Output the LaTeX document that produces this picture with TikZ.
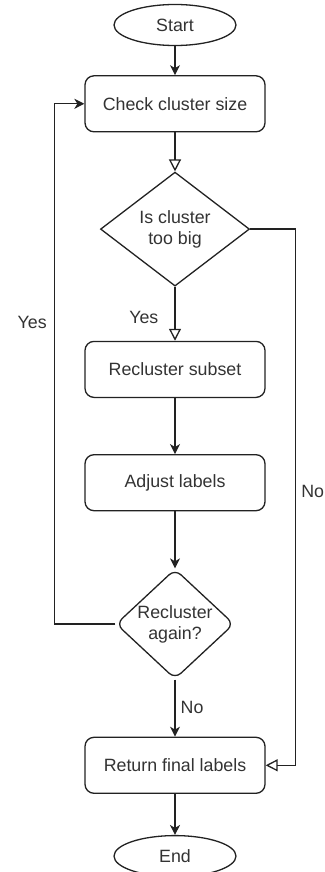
\documentclass[tikz,border=0pt]{standalone}
\usepackage{fontspec}
\setmainfont{Liberation Sans}
\usepackage{xcolor}
\usetikzlibrary{arrows.meta,positioning,shapes.geometric}

\definecolor{ink}{HTML}{222222}
\definecolor{txt}{HTML}{333333}

\begin{document}
\begin{tikzpicture}[x=1pt, y=1pt, font=\fontsize{17.8}{21}\selectfont,
    line width=1.3pt, draw=ink, text=txt,
    >={Stealth[length=10pt, width=10pt, inset=3pt]},
    open/.style={-{Triangle[open, length=12pt, width=12pt]}},
    term/.style={draw=ink, ellipse, fill=white, inner sep=0pt, minimum width=122pt, minimum height=41pt},
    proc/.style={draw=ink, rounded corners=9pt, fill=white, align=center, minimum width=180pt, minimum height=56pt},
    dec/.style={draw=ink, diamond, fill=white, align=center, inner sep=-3pt},
    lbl/.style={text=txt, inner sep=2pt}]

  \useasboundingbox (0,0) rectangle (324,-872);

  % --- Main column ---
  \node[term] (start) at (175,-25) {Start};
  \node[proc, below=29pt of start] (check) {Check cluster size};
  \node[dec, aspect=1.3, minimum width=149pt, minimum height=114pt, below=39pt of check] (big) {Is cluster\\too big};
  \node[proc, below=54pt of big] (sub) {Recluster subset};
  \node[proc, below=56pt of sub] (adj) {Adjust labels};
  \node[dec, rounded corners=8pt, aspect=1.08, minimum width=118pt, minimum height=110pt, below=57pt of adj] (again) {Recluster\\again?};
  \node[proc, below=57pt of again] (ret) {Return final labels};
  \node[term, below=41pt of ret] (end) {End};

  \draw[->, ink] (start) -- (check);
  \draw[open, ink] (check) -- (big);
  \draw[open, ink] (big) -- (sub) node[lbl, pos=0.56, left=14pt] {Yes};
  \draw[->, ink] (sub) -- (adj);
  \draw[->, ink] (adj) -- (again);
  \draw[->, ink] (again) -- (ret) node[lbl, pos=0.49, right=3pt] {No};
  \draw[->, ink] (ret) -- (end);

  % --- Side loops ---
  \draw[->, ink] (again.west) -| ([xshift=-30pt]check.west) node[lbl, pos=0.79, left=5pt] {Yes} -- (check.west);
  \draw[open, ink] (big.east) -| ([xshift=30pt]ret.east) node[lbl, pos=0.745, right=3pt] {No} -- (ret.east);
\end{tikzpicture}
\end{document}
